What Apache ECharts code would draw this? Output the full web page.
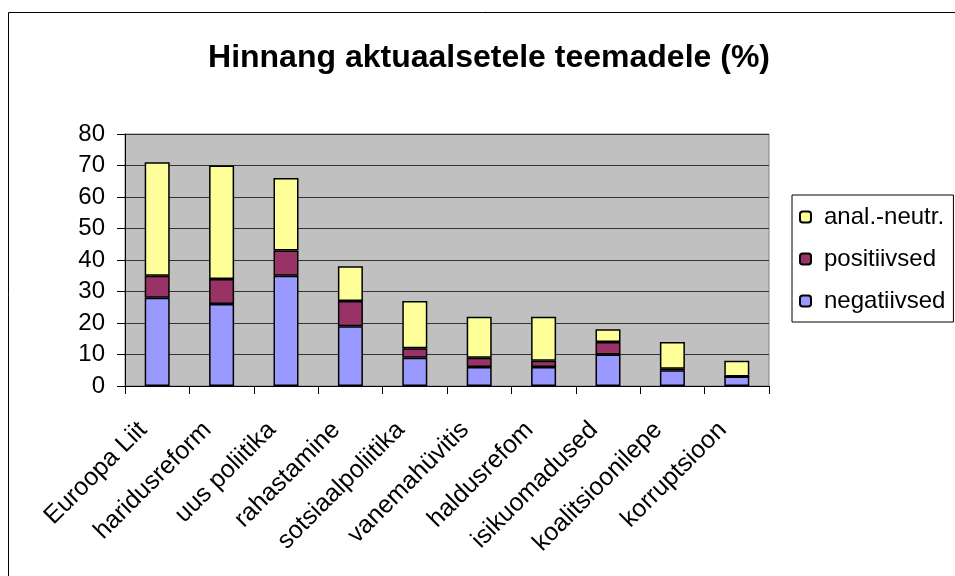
<!DOCTYPE html>
<html>
<head>
<meta charset="utf-8">
<script src="https://cdn.jsdelivr.net/npm/echarts@6/dist/echarts.min.js"></script>
<style>html,body{margin:0;padding:0;background:#fff;}#c{width:955px;height:576px;}</style>
</head>
<body>
<div id="c"></div>
<script>
const categories = ['Euroopa Liit','haridusreform','uus poliitika','rahastamine','sotsiaalpoliitika','vanemahüvitis','haldusrefom','isikuomadused','koalitsioonilepe','korruptsioon'];
const negatiivsed = [28, 26, 35, 19, 9, 6, 6, 10, 5, 3];
const positiivsed = [7, 8, 8, 8, 3, 3, 2, 4, 0.5, 0];
const analNeutr = [36, 36, 23, 11, 15, 13, 14, 4, 8.5, 5];
const yTicks = [0, 10, 20, 30, 40, 50, 60, 70, 80];

const chart = echarts.init(document.getElementById('c'), null, {renderer: 'canvas'});
const font = 'Arial, "Liberation Sans", sans-serif';
const barStyle = c => ({color: c, borderColor: '#000', borderWidth: 1.5});
chart.setOption({
  animation: false,
  backgroundColor: '#fff',
  textStyle: {fontFamily: font},
  title: {
    text: 'Hinnang aktuaalsetele teemadele (%)',
    left: 484, textAlign: 'center', top: 37,
    textStyle: {fontFamily: font, fontWeight: 'bold', fontSize: 32, color: '#000'}
  },
  graphic: [{
    type: 'rect', silent: true,
    shape: {x: 8.5, y: 12.5, width: 1000, height: 1000},
    style: {fill: 'none', stroke: '#000', lineWidth: 1}
  }],
  legend: {
    orient: 'vertical', left: 792, top: 195,
    padding: [10, 8, 9, 7],
    itemGap: 18, itemWidth: 11, itemHeight: 11,
    borderColor: '#000', borderWidth: 1,
    data: ['anal.-neutr.', 'positiivsed', 'negatiivsed'],
    textStyle: {fontFamily: font, fontSize: 24, color: '#000', padding: [0, 0, 0, 8]}
  },
  grid: {
    left: 125, right: 186, top: 134, bottom: 190,
    show: true, backgroundColor: '#C0C0C0', borderColor: '#808080', borderWidth: 1
  },
  xAxis: {
    type: 'category', data: categories,
    axisLine: {lineStyle: {color: '#000', width: 1}},
    axisTick: {show: true, alignWithLabel: false, length: 8, lineStyle: {color: '#000'}},
    axisLabel: {rotate: 45, fontSize: 25, color: '#000', margin: 26, interval: 0, fontFamily: font, padding: [0, 20, 0, 0]}
  },
  yAxis: {
    type: 'value', min: yTicks[0], max: yTicks[yTicks.length - 1], interval: 10,
    axisLine: {show: true, lineStyle: {color: '#000', width: 1}},
    axisTick: {show: true, length: 8, lineStyle: {color: '#000'}},
    axisLabel: {fontSize: 24, color: '#000', margin: 20, fontFamily: font},
    splitLine: {show: true, lineStyle: {color: '#333', width: 1}}
  },
  series: [
    {name: 'negatiivsed', type: 'bar', stack: 's', barWidth: 25, data: negatiivsed, itemStyle: barStyle('#9999FF')},
    {name: 'positiivsed', type: 'bar', stack: 's', barWidth: 25, data: positiivsed, itemStyle: barStyle('#993366')},
    {name: 'anal.-neutr.', type: 'bar', stack: 's', barWidth: 25, data: analNeutr, itemStyle: barStyle('#FFFF99')}
  ]
});
</script>
</body>
</html>
